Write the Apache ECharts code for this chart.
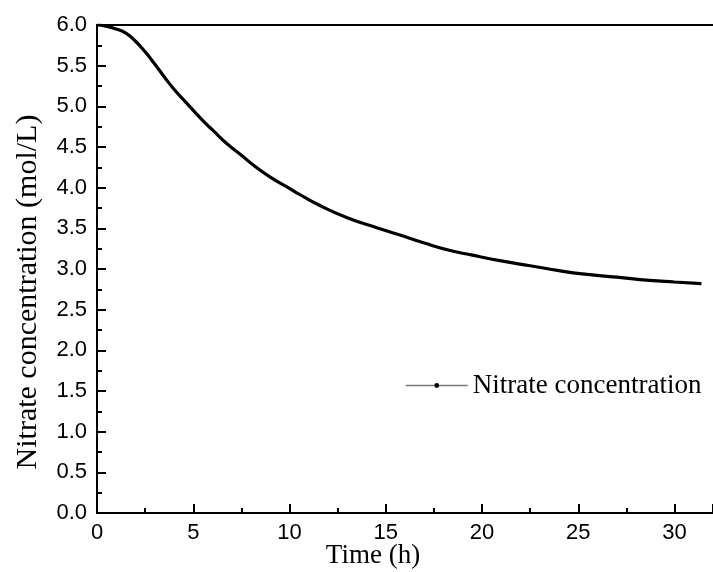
<!DOCTYPE html>
<html>
<head>
<meta charset="utf-8">
<script src="https://cdn.jsdelivr.net/npm/echarts@6/dist/echarts.min.js"></script>
<style>
  html, body { margin: 0; padding: 0; background: #fff; }
  #chart { width: 713px; height: 572px; }
</style>
</head>
<body>
<div id="chart"></div>
<script>
// Nitrate concentration over time
const timeHours = [0, 0.4, 1.0, 1.5, 2.0, 2.5, 3.0, 3.5, 4.0, 4.5, 5.0, 5.6, 6.0, 6.8, 7.5, 8.0, 9.0, 10.0, 10.5, 11.5, 13.0, 14.5, 15.7, 17.0, 18.3, 19.5, 21.0, 22.5, 24.0, 25.2, 27.0, 28.7, 30.0, 31.4];
const nitrate = [6.0, 5.99, 5.95, 5.90, 5.80, 5.67, 5.52, 5.36, 5.21, 5.08, 4.95, 4.80, 4.71, 4.53, 4.40, 4.30, 4.13, 3.99, 3.92, 3.79, 3.63, 3.51, 3.42, 3.32, 3.23, 3.17, 3.10, 3.04, 2.98, 2.94, 2.90, 2.86, 2.84, 2.82];
const seriesName = 'Nitrate concentration';
const xTitle = 'Time (h)';
const yTitle = 'Nitrate concentration (mol/L)';

const points = timeHours.map((t, i) => [t, nitrate[i]]);

const chart = echarts.init(document.getElementById('chart'), null, { renderer: 'canvas' });

const axisLineStyle = { color: '#000', width: 2 };
const sansLabel = { color: '#000', fontFamily: 'Liberation Sans, Arial, sans-serif', fontSize: 22 };

chart.setOption({
  animation: false,
  backgroundColor: '#fff',
  grid: { left: 97, right: 0, top: 25, bottom: 59, containLabel: false },
  xAxis: [
    {
      type: 'value', min: 0, max: 32, interval: 5,
      axisLine: { show: true, onZero: false, lineStyle: axisLineStyle },
      axisTick: { show: true, inside: true, length: 9, lineStyle: { color: '#000', width: 2 } },
      minorTick: { show: true, splitNumber: 2, length: 5, lineStyle: { color: '#000', width: 2 } },
      splitLine: { show: false },
      axisLabel: Object.assign({ margin: 9, showMaxLabel: false }, sansLabel)
    },
    {
      type: 'value', position: 'top', min: 0, max: 32,
      axisLine: { show: true, onZero: false, lineStyle: axisLineStyle },
      axisTick: { show: false }, axisLabel: { show: false }, splitLine: { show: false }
    }
  ],
  yAxis: {
    type: 'value', min: 0, max: 6, interval: 0.5,
    axisLine: { show: true, onZero: false, lineStyle: axisLineStyle },
    axisTick: { show: true, inside: true, length: 9, lineStyle: { color: '#000', width: 2 } },
    minorTick: { show: true, splitNumber: 2, length: 5, lineStyle: { color: '#000', width: 2 } },
    splitLine: { show: false },
    axisLabel: Object.assign({ margin: 10, formatter: v => v.toFixed(1) }, sansLabel)
  },
  legend: {
    data: [seriesName],
    left: 400, top: 367,
    itemWidth: 62, itemHeight: 6, itemGap: 10,
    lineStyle: { color: '#777', width: 1.5 },
    itemStyle: { color: '#000' },
    textStyle: { color: '#000', fontFamily: 'Liberation Serif, Times New Roman, serif', fontSize: 27 }
  },
  graphic: [
    {
      type: 'text', x: 373, y: 556,
      style: { text: xTitle, x: 0, y: 0, align: 'center', verticalAlign: 'middle',
               fill: '#000', font: '27px "Liberation Serif", "Times New Roman", serif' }
    },
    {
      type: 'text', x: 28, y: 292, rotation: Math.PI / 2,
      style: { text: yTitle, x: 0, y: 0, align: 'center', verticalAlign: 'middle',
               fill: '#000', font: '30px "Liberation Serif", "Times New Roman", serif' }
    }
  ],
  series: [{
    name: seriesName,
    type: 'line',
    data: points,
    smooth: 0.5,
    symbol: 'circle',
    symbolSize: 4,
    showSymbol: false,
    lineStyle: { color: '#000', width: 3.2 },
    itemStyle: { color: '#000' }
  }]
});
</script>
</body>
</html>
